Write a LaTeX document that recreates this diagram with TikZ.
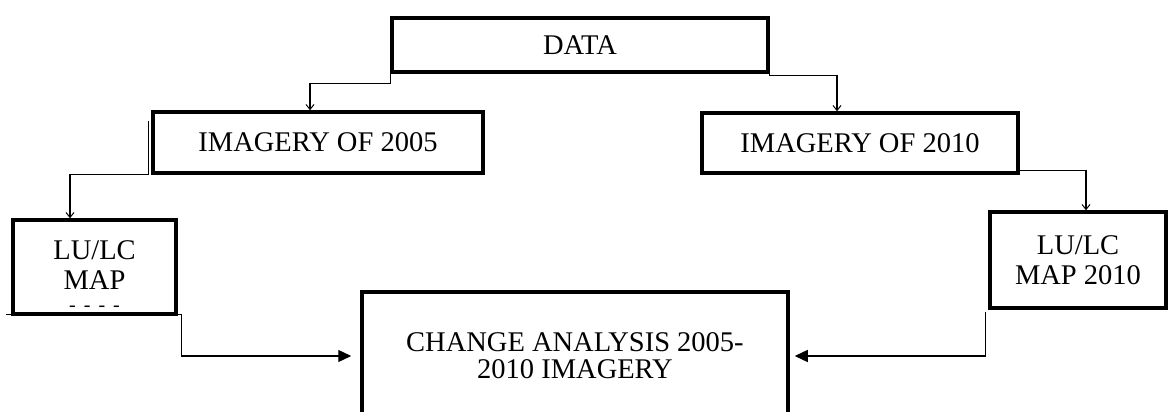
\documentclass[tikz,border=0pt]{standalone}
\usepackage{fontspec}
\setmainfont{Liberation Serif}
\usetikzlibrary{arrows.meta}
\begin{document}
\begin{tikzpicture}[x=1pt,y=-1pt,
 box/.style={draw, line width=3.5pt, inner sep=0pt, align=center, font=\fontsize{28.5}{30}\selectfont},
 lbl/.style={inner sep=0pt, align=center, font=\fontsize{28.5}{30}\selectfont},
 conn/.style={line width=1.3pt},
 openarr/.style={conn, -{Straight Barb[length=5pt,width=8pt,line width=1pt]}},
 fillarr/.style={conn, -{Triangle[length=13pt,width=12pt]}}]
\useasboundingbox (0,0) rectangle (1168,412);
\node[box, minimum width=376pt, minimum height=54pt] (data) at (580,45) {DATA};
\node[box, minimum width=330pt, minimum height=61pt] (img05) at (318,142.5) {IMAGERY OF 2005};
\node[box, minimum width=316pt, minimum height=60pt] (img10) at (860,143) {IMAGERY OF 2010};
\node[box, minimum width=163pt, minimum height=94pt] (lu05) at (94.5,267) {};
\node[lbl, text depth=0pt, anchor=south] (lu05t) at (94.5,290) {LU/LC\\MAP};
\node[lbl, anchor=base, font=\fontsize{20}{20}\selectfont] (lu05d) at (94.5,311) {-\hspace{8pt}-\hspace{8pt}-\hspace{8pt}-};
\node[box, minimum width=176pt, minimum height=96pt] (lu10) at (1078,260) {LU/LC\\MAP 2010};
\node[box, minimum width=426pt, minimum height=128pt, font=\fontsize{28.5}{27}\selectfont] (chg) at (575,356) {CHANGE ANALYSIS 2005-\\2010 IMAGERY};
% connectors
\draw[openarr] (data.south west) -- ++(0,10) -| ([xshift=-8pt]img05.north);
\draw[openarr] (data.south east) -- ++(0,2) -| ([xshift=-23pt]img10.north);
\draw[openarr] ([shift={(-3,11)}]img05.north west) -- ([xshift=-3pt]img05.south west) -| ([xshift=-24.5pt]lu05.north);
\draw[openarr] ([yshift=4pt]img10.south east) -| ([xshift=8pt]lu10.north);
\draw[fillarr] ([xshift=-5pt,yshift=1pt]lu05.south west) -- ([xshift=4pt,yshift=1pt]lu05.south east) |- ([xshift=-9pt]chg.west);
\draw[fillarr] ([xshift=-3pt,yshift=-2pt]lu10.south west) |- ([xshift=5pt]chg.east);
\end{tikzpicture}
\end{document}
